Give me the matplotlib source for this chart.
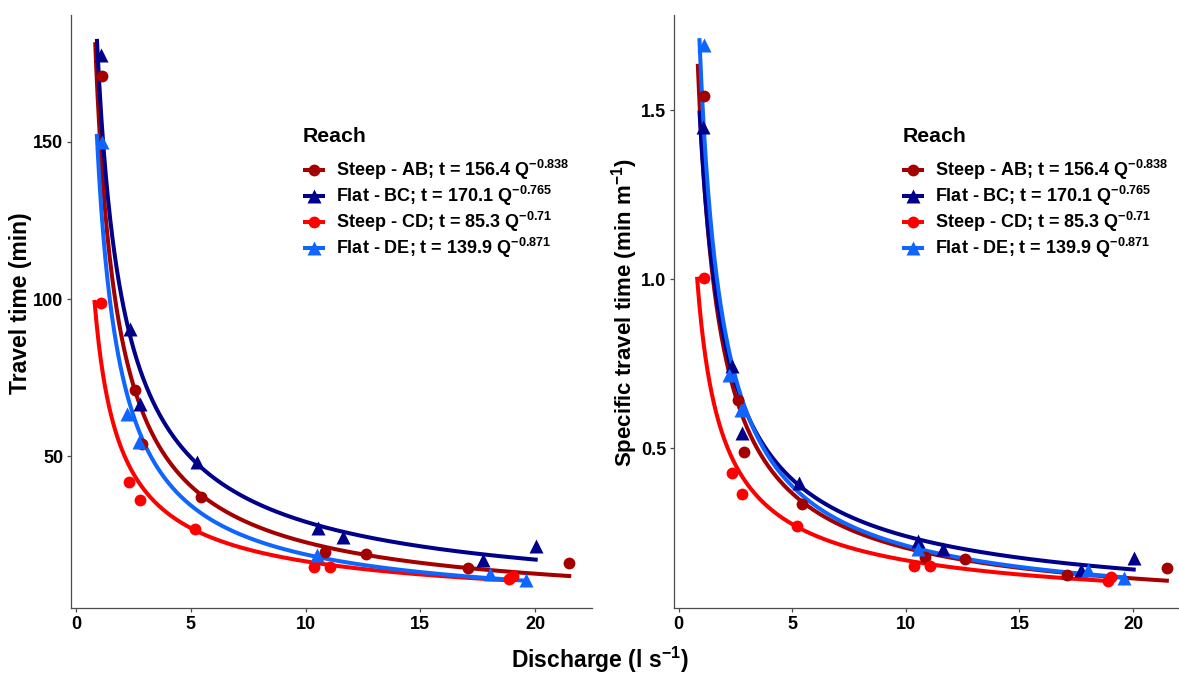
import numpy as np
import matplotlib
matplotlib.use("Agg")
import matplotlib.pyplot as plt
from matplotlib.lines import Line2D

plt.rcParams['font.family'] = ['Liberation Sans', 'DejaVu Sans']
plt.rcParams['font.weight'] = 'bold'
plt.rcParams['mathtext.fontset'] = 'custom'
plt.rcParams['mathtext.rm'] = 'Liberation Sans'
plt.rcParams['mathtext.it'] = 'Liberation Sans:italic'
plt.rcParams['mathtext.bf'] = 'Liberation Sans:bold'

reaches = ["Steep - AB", "Flat - BC", "Steep - CD", "Flat - DE"]
colors = ["#A50000", "#00008B", "#FF0000", "#0F66FF"]
markers = ["o", "^", "o", "^"]

# power-law fits t = a * Q^b (from the legend)
fit_a = [156.4, 170.1, 85.3, 139.9]
fit_b = [-0.838, -0.765, -0.71, -0.871]
fit_qmin = [0.84, 0.915, 0.81, 0.91]
reach_len = [111, 122, 99, 89]  # m, for the specific travel time fits

# discharge (l/s), travel time (min), specific travel time (min/m)
q_ab = [1.12, 2.59, 2.88, 5.43, 10.84, 12.62, 17.1, 21.49]
t_ab = [170.9, 71.1, 54.0, 37.2, 19.7, 19.1, 14.4, 16.2]
s_ab = [1.542, 0.641, 0.487, 0.334, 0.178, 0.172, 0.126, 0.145]

q_bc = [1.08, 2.36, 2.78, 5.28, 10.54, 11.63, 17.73, 20.03]
t_bc = [177.6, 90.6, 66.5, 48.2, 27.3, 24.5, 17.2, 21.5]
s_bc = [1.451, 0.743, 0.545, 0.396, 0.225, 0.202, 0.140, 0.176]

q_cd = [1.1, 2.33, 2.78, 5.2, 10.36, 11.06, 18.88, 19.03]
t_cd = [98.8, 42.0, 36.0, 27.0, 14.9, 14.9, 10.9, 11.9]
s_cd = [1.002, 0.426, 0.364, 0.271, 0.150, 0.150, 0.108, 0.120]

q_de = [1.12, 2.22, 2.73, 10.52, 18.03, 19.6]
t_de = [150.0, 63.6, 54.5, 18.6, 12.6, 10.6]
s_de = [1.692, 0.715, 0.614, 0.202, 0.138, 0.115]

q_all = [q_ab, q_bc, q_cd, q_de]
t_all = [t_ab, t_bc, t_cd, t_de]
s_all = [s_ab, s_bc, s_cd, s_de]

W, H = 1179, 673
fig = plt.figure(figsize=(W / 100, H / 100), dpi=100)


def px_axes(x0, x1, y0, y1):
    return fig.add_axes([x0 / W, 1 - y1 / H, (x1 - x0) / W, (y1 - y0) / H])


ax1 = px_axes(70.95, 592.4, 15, 608)
ax2 = px_axes(673.8, 1189.8, 15, 608)

for i in range(4):
    q = np.linspace(fit_qmin[i], max(q_all[i]), 400)
    t = fit_a[i] * q ** fit_b[i]
    ax1.plot(q, t, color=colors[i], lw=2.9, zorder=2)
    ax2.plot(q, t / reach_len[i], color=colors[i], lw=2.9, zorder=2)

for i in range(4):
    ms = 8.5 if markers[i] == "o" else 10
    ax1.plot(q_all[i], t_all[i], ls="none", marker=markers[i], ms=ms,
             color=colors[i], mec="none", zorder=3)
    ax2.plot(q_all[i], s_all[i], ls="none", marker=markers[i], ms=ms,
             color=colors[i], mec="none", zorder=3)

for ax in (ax1, ax2):
    for s in ("top", "right"):
        ax.spines[s].set_visible(False)
    for s in ("left", "bottom"):
        ax.spines[s].set_color("#4d4d4d")
        ax.spines[s].set_linewidth(0.9)
    ax.tick_params(length=3, width=0.9, color="#4d4d4d", pad=2.5,
                   labelsize=13, labelcolor="black")
    ax.set_xlim(-0.22, 22.5)
    ax.set_xticks([0, 5, 10, 15, 20])

ax1.set_ylim(1.8, 190.3)
ax1.set_yticks([50, 100, 150])
ax2.set_ylim(0.027, 1.781)
ax2.set_yticks([0.5, 1.0, 1.5])
ax2.set_yticklabels(["0.5", "1.0", "1.5"])

fig.text(21 / W, 1 - 303 / H, "Travel time (min)", rotation=90,
         ha="center", va="center", fontsize=16.5)
fig.text(625 / W, 1 - 313 / H, "Specific travel time (min m$^{-1}$)",
         rotation=90, ha="center", va="center", fontsize=16)
fig.text(600 / W, 1 - 668 / H, "Discharge (l s$^{-1}$)", ha="center",
         va="baseline", fontsize=16.5)

labels = [f"{r}; t = {a} Q$^{{{b}}}$" for r, a, b in zip(reaches, fit_a, fit_b)]


def draw_legend(x_title, x_key, x_text):
    fig.text(x_title / W, 1 - 142 / H, "Reach", fontsize=15.3, va="baseline")
    for i in range(4):
        y = 1 - (170 + 26 * i) / H
        fig.add_artist(Line2D([x_key / W, (x_key + 18) / W], [y, y],
                              color=colors[i], lw=2.9, transform=fig.transFigure))
        ms = 8.5 if markers[i] == "o" else 10
        fig.add_artist(Line2D([(x_key + 9) / W], [y], marker=markers[i], ms=ms,
                              color=colors[i], mec="none", ls="none",
                              transform=fig.transFigure))
        fig.text(x_text / W, y - 6.5 / H, labels[i], fontsize=13, va="baseline")


draw_legend(303, 305, 336)
draw_legend(903, 904, 935)

fig.savefig("out.png", dpi=100)
